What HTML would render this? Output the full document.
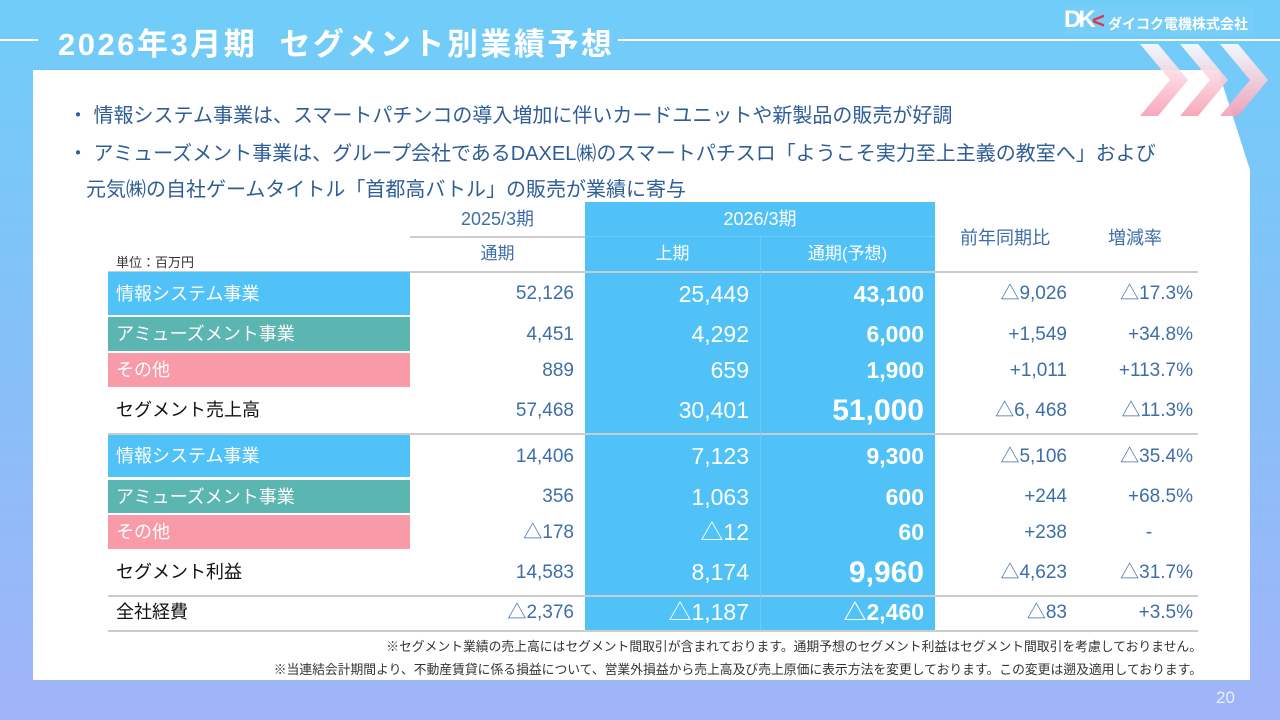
<!DOCTYPE html>
<html><head><meta charset="utf-8"><style>
*{margin:0;padding:0;box-sizing:border-box}
body{width:1280px;height:720px;overflow:hidden;position:relative;font-family:"Liberation Sans","Noto Sans CJK JP",sans-serif;background:linear-gradient(180deg,#6fcdf8 0%,#86c0f8 50%,#a1b4f8 100%)}
.abs{position:absolute}
.t{position:absolute;white-space:nowrap}
.num{color:#3e6ea9;font-size:19px;text-align:right}
.w{color:#fff}
</style></head><body>
<div class="abs" style="left:0;top:39px;width:38px;height:2px;background:#fff"></div>
<div class="abs" style="left:618px;top:39px;width:662px;height:2px;background:#fff"></div>
<div class="t" style="left:58px;top:19px;font-size:31px;font-weight:bold;color:#fff;letter-spacing:2.5px">2026年3月期&nbsp; セグメント別業績予想</div>
<div class="abs" style="left:1064px;top:6px;width:190px;height:30px;background:#75cdf8">
 <span class="t" style="left:0;top:0;font-size:24px;font-weight:bold;color:#fff;letter-spacing:-3px">DK</span>
 <span class="t" style="left:28px;top:2px;font-size:22px;font-weight:bold;color:#e0334a">&lt;</span>
 <span class="t" style="left:44px;top:8px;font-size:14px;font-weight:bold;color:#fff">ダイコク電機株式会社</span>
</div>
<svg class="abs" style="left:0;top:0" width="1280" height="720">
 <defs><linearGradient id="cg" x1="0" y1="0" x2="0" y2="1"><stop offset="0" stop-color="#ffffff"/><stop offset="1" stop-color="#f7a0b4"/></linearGradient></defs>
 <polygon points="33,70 1218,70 1250,170 1250,680 33,680" fill="#fff"/>
 <g fill="url(#cg)" opacity="0.9">
  <polygon points="1140,44 1158,44 1188,80 1158,116 1140,116 1170,80"/>
  <polygon points="1180,44 1198,44 1228,80 1198,116 1180,116 1210,80"/>
  <polygon points="1220,44 1238,44 1268,80 1238,116 1220,116 1250,80"/>
 </g>
</svg>
<div class="t" style="left:68px;top:99px;font-size:20px;color:#2f5d97">・ 情報システム事業は、スマートパチンコの導入増加に伴いカードユニットや新製品の販売が好調</div>
<div class="t" style="left:68px;top:137px;font-size:20px;color:#2f5d97">・ アミューズメント事業は、グループ会社であるDAXEL㈱のスマートパチスロ「ようこそ実力至上主義の教室へ」および</div>
<div class="t" style="left:86px;top:173px;font-size:20px;color:#2f5d97">元気㈱の自社ゲームタイトル「首都高バトル」の販売が業績に寄与</div>

<div id="tbl"></div>
<div class="t" style="right:78px;top:636px;font-size:12.8px;color:#333">※セグメント業績の売上高にはセグメント間取引が含まれております。通期予想のセグメント利益はセグメント間取引を考慮しておりません。</div>
<div class="t" style="right:78px;top:659px;font-size:12.8px;color:#333">※当連結会計期間より、不動産賃貸に係る損益について、営業外損益から売上高及び売上原価に表示方法を変更しております。この変更は遡及適用しております。</div>
<div class="t" style="left:1216px;top:688px;font-size:17px;color:#e8f0ff">20</div>
<script>
const rowLabels=["情報システム事業","アミューズメント事業","その他","セグメント売上高","情報システム事業","アミューズメント事業","その他","セグメント利益","全社経費"];
const prevFull=["52,126","4,451","889","57,468","14,406","356","△178","14,583","△2,376"];
const curH1=["25,449","4,292","659","30,401","7,123","1,063","△12","8,174","△1,187"];
const curFull=["43,100","6,000","1,900","51,000","9,300","600","60","9,960","△2,460"];
const yoy=["△9,026","+1,549","+1,011","△6, 468","△5,106","+244","+238","△4,623","△83"];
const rate=["△17.3%","+34.8%","+113.7%","△11.3%","△35.4%","+68.5%","-","△31.7%","+3.5%"];
const rowTop=[272,317,353,388,435,480,515,550,595];
const rowH=[44,35,35,45,43,34,35,45,35];
const labelBg=["#50c2f7","#5bb5b0","#f99aa9",null,"#50c2f7","#5bb5b0","#f99aa9",null,null];
const body=document.body;
function box(x,y,w,h,bg,name){const d=document.createElement('div');d.className='abs';d.style.cssText=`left:${x}px;top:${y}px;width:${w}px;height:${h}px;background:${bg}`;


body.appendChild(d);return d;}
function txt(s,x,y,w,h,cls,style,name){const d=document.createElement('div');d.className='t '+cls;d.textContent=s;d.style.cssText=`left:${x}px;top:${y}px;width:${w}px;height:${h}px;line-height:${h}px;`+style;


body.appendChild(d);return d;}
box(585,202,350,428,'#50c2f7','forecast-column-block');
box(410,236,175,2,'#ccc','header-rule');
box(108,271,1090,2,'#ccc','header-bottom-rule');
box(108,433,1090,2,'#ccc','sales-bottom-rule');
box(108,595,1090,2,'#ccc','profit-bottom-rule');
box(108,630,1090,2,'#ccc','table-bottom-rule');
box(585,236,350,1,'#6ccbf8','blue-header-rule');
box(760,237,1,393,'#6ccbf8','blue-col-divider');
txt('2025/3期',410,202,175,34,'','text-align:center;font-size:18px;color:#3e6ea9','header-2025');
txt('2026/3期',585,202,350,34,'w','text-align:center;font-size:18px','header-2026');
txt('通期',410,237,175,34,'','text-align:center;font-size:17px;color:#3e6ea9','header-prev-full');
txt('上期',585,237,175,34,'w','text-align:center;font-size:17px','header-h1');
txt('通期(予想)',760,237,175,34,'w','text-align:center;font-size:17px','header-full-forecast');
txt('前年同期比',935,220,140,36,'','text-align:center;font-size:18px;color:#3e6ea9','header-yoy');
txt('増減率',1075,220,120,36,'','text-align:center;font-size:18px;color:#3e6ea9','header-rate');
txt('単位：百万円',116,252,150,22,'','font-size:13px;color:#333','unit-label');
rowLabels.forEach((l,i)=>{
 const y=rowTop[i],h=rowH[i];
 if(labelBg[i]){box(108,y,302,h-1,labelBg[i],'row-label-bg');}
 txt(l,116,y,290,h,'',`font-size:18px;color:${labelBg[i]?'#fff':'#111'}`,'row-label');
 txt(prevFull[i],410,y,164,h,'num','','prev-full-value');
 txt(curH1[i],585,y,164,h,'num w',"font-size:23px;color:#fff",'h1-value');
 const big=(i==3||i==7);
 txt(curFull[i],760,y,164,h,'num w',`font-size:${big?30:23}px;font-weight:bold;color:#fff`,'full-forecast-value');
 txt(yoy[i],935,y,132,h,'num','','yoy-value');
 txt(rate[i],1075,y,118,h,'num',rate[i]=='-'?'text-align:center;padding-left:30px':'','rate-value');
});
</script>
</body></html>
